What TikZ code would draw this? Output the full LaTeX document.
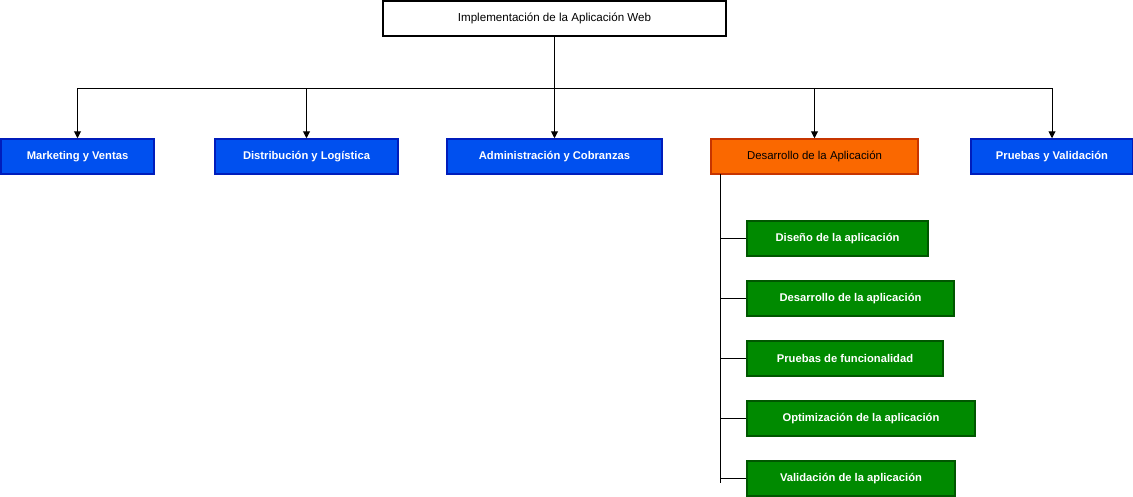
\documentclass[tikz,border=0pt]{standalone}
\usepackage{fontspec}
\setmainfont{Liberation Sans}
\usetikzlibrary{arrows.meta}

\definecolor{areablue}{HTML}{0050EF}
\definecolor{areablueline}{HTML}{001DBC}
\definecolor{devorange}{HTML}{FA6800}
\definecolor{devorangeline}{HTML}{C73500}
\definecolor{taskgreen}{HTML}{008A00}
\definecolor{taskgreenline}{HTML}{005700}

\tikzset{
  rootbox/.style={draw=black, fill=white, line width=2pt, minimum width=343pt,
    minimum height=35pt, font=\fontsize{11.6}{13}\selectfont},
  areabox/.style={draw=areablueline, fill=areablue, line width=1.5pt, text=white,
    minimum height=35pt, font=\fontsize{11.2}{13}\selectfont\bfseries},
  devbox/.style={draw=devorangeline, fill=devorange, line width=1.5pt, text=black,
    minimum height=35pt, font=\fontsize{11.4}{13}\selectfont},
  taskbox/.style={draw=taskgreenline, fill=taskgreen, line width=1.5pt, text=white,
    minimum height=35pt, font=\fontsize{11.2}{13}\selectfont\bfseries},
  link/.style={draw=black, line width=1pt},
  arrowlink/.style={link, -{Triangle[length=7pt,width=7pt]}}
}

\begin{document}
\begin{tikzpicture}[x=1pt, y=-1pt]

  \useasboundingbox (0,0) rectangle (1133,496);

  % ---- Root ----
  \node[rootbox] (root) at (554.5,18.5) {Implementación de la Aplicación Web};

  % ---- Areas ----
  \node[areabox, minimum width=153pt] (mkt) at (77.5,156.5) {Marketing y Ventas};
  \node[areabox, minimum width=183pt] (dist) at (306.5,156.5) {Distribución y Logística};
  \node[areabox, minimum width=215pt] (admin) at (554.5,156.5) {Administración y Cobranzas};
  \node[devbox, minimum width=207pt] (dev) at (814.5,156.5) {Desarrollo de la Aplicación};
  \node[areabox, minimum width=162pt] (test) at (1052,156.5) {Pruebas y Validación};

  % bus from root to areas
  \coordinate (bus) at (554.5,88);
  \draw[link] (root.south) -- (bus);
  \draw[arrowlink] (bus) -| (mkt.north);
  \draw[arrowlink] (bus) -| (dist.north);
  \draw[arrowlink] (bus) -- (admin.north);
  \draw[arrowlink] (bus) -| (dev.north);
  \draw[arrowlink] (bus) -| (test.north);

  % ---- Tasks of Desarrollo ----
  \node[taskbox, minimum width=181pt] (t1) at (837.5,238.5) {Diseño de la aplicación};
  \node[taskbox, minimum width=207pt] (t2) at (850.5,298.5) {Desarrollo de la aplicación};
  \node[taskbox, minimum width=196pt] (t3) at (845,358.5) {Pruebas de funcionalidad};
  \node[taskbox, minimum width=228pt] (t4) at (861,418.5) {Optimización de la aplicación};
  \node[taskbox, minimum width=208pt] (t5) at (851,478.5) {Validación de la aplicación};

  % trunk below Desarrollo
  \coordinate (trunk) at (720,174);
  \coordinate (trunkend) at (720,483);
  \draw[link] (trunk) -- (trunkend);
  \foreach \t in {t1,t2,t3,t4,t5}
    \draw[link] (trunk |- \t.west) -- (\t.west);

\end{tikzpicture}
\end{document}
